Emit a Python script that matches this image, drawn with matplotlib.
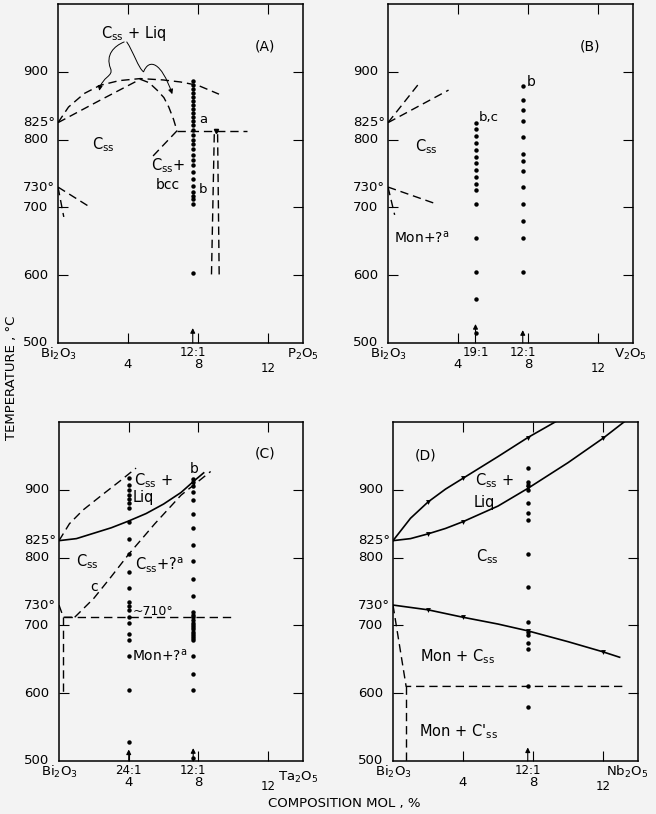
import matplotlib
matplotlib.use("Agg")
import matplotlib.pyplot as plt
from matplotlib.path import Path
from matplotlib.patches import FancyArrowPatch
import matplotlib.transforms as mtransforms

plt.rcParams['font.family'] = ['DejaVu Sans']
plt.rcParams['mathtext.default'] = 'regular'

BG = '#f3f3f3'
DASH = (0, (6, 3.5))

# ---- panel A: Bi2O3 - P2O5 ----
a_upper_x = [0, 0.6, 1.5, 2.4, 3.5, 4.7, 6.0, 7.0, 8.0, 9.2]
a_upper_y = [825, 848, 868, 880, 887, 890, 888, 885, 880, 867]
a_lower_x = [0, 2.4, 4.7]
a_lower_y = [825, 858, 889]
a_desc_x = [4.7, 5.2, 5.66, 6.05, 6.33, 6.6, 6.8]
a_desc_y = [889, 884, 873, 862, 848, 830, 813]
a_eut_x = [6.8, 10.8]
a_eut_y = [813, 813]
a_branch_x = [6.8, 5.4]
a_branch_y = [813, 775]
a_vl_x = [8.93, 8.77]
a_vl_y = [808, 600]
a_vr_x = [9.12, 9.21]
a_vr_y = [808, 600]
a_730_x = [0, 1.73]
a_730_y = [730, 702]
a_730b_x = [0, 0.33]
a_730b_y = [730, 686]
a_dots_y = [886, 881, 875, 869, 863, 857, 851, 845, 839, 833, 828, 822, 814,
            807, 800, 793, 786, 778, 770, 762, 752, 742, 732, 722, 717, 713,
            705, 603]
a_arrow = [(7.7, 522)]

# ---- panel B: Bi2O3 - V2O5 ----
b_825a_x = [0, 1.84]
b_825a_y = [825, 885]
b_825b_x = [0, 3.46]
b_825b_y = [825, 873]
b_730_x = [0, 2.66]
b_730_y = [730, 706]
b_730b_x = [0, 0.38]
b_730b_y = [730, 689]
b_dots19_y = [825, 815, 805, 795, 785, 775, 765, 755, 745, 735, 725, 705,
              655, 605, 565, 515]
b_dots12_y = [879, 859, 843, 828, 804, 779, 769, 754, 730, 705, 680, 655, 605]
b_arrows = [(5.0, 528), (7.7, 519)]

# ---- panel C: Bi2O3 - Ta2O5 ----
c_liq_x = [0, 1, 2, 3, 4, 5, 6, 7, 7.7, 8.3]
c_liq_y = [825, 828, 836, 844, 854, 865, 879, 896, 912, 925]
c_up_x = [0, 0.6, 1.37, 2.5, 3.5, 4.42]
c_up_y = [825, 850, 870, 893, 913, 932]
c_lo_x = [0.9, 2.0, 3.0, 4.0, 5.5, 7.0, 8.7]
c_lo_y = [712, 740, 772, 805, 850, 892, 927]
c_710_x = [0.3, 10.05]
c_710_y = [712, 712]
c_730_x = [0, 0.25, 0.9]
c_730_y = [730, 712, 712]
c_vert_x = [0.25, 0.25]
c_vert_y = [712, 600]
c_dots24_y = [917, 907, 900, 892, 886, 880, 873, 853, 828, 806, 779, 755, 735,
              729, 723, 713, 703, 688, 678, 655, 604, 528]
c_dots12_y = [916, 912, 905, 897, 885, 865, 843, 819, 795, 769, 744, 720, 716,
              712, 708, 704, 700, 697, 694, 691, 688, 685, 682, 679, 655, 629,
              604, 505]
c_arrows = [(4.0, 517), (7.7, 519)]

# ---- panel D: Bi2O3 - Nb2O5 ----
d_liq_x = [0, 1, 2, 3, 4, 6, 7.7, 9.4]
d_liq_y = [825, 858, 882, 901, 917, 949, 977, 1002]
d_sol_x = [0, 1, 2, 3, 4, 6, 7.7, 10, 12, 13.3]
d_sol_y = [825, 828, 835, 843, 853, 876, 902, 940, 976, 1002]
d_tr_x = [0, 2, 4, 6, 7.7, 10, 12, 12.95]
d_tr_y = [730, 723, 712, 702, 692, 676, 661, 653]
d_mk_liq = ([2, 4, 7.7], [882, 917, 977])
d_mk_sol = ([2, 4, 7.7, 12], [835, 853, 902, 976])
d_mk_tr = ([2, 4, 7.7, 12], [723, 712, 692, 661])
d_dash_x = [0, 0.75, 13.35]
d_dash_y = [730, 610, 610]
d_vert_x = [0.75, 0.75]
d_vert_y = [610, 500]
d_dots_y = [932, 912, 907, 900, 881, 866, 856, 805, 756, 705, 691, 686, 674,
            665, 611, 580]
d_arrows = [(7.7, 520)]

fig = plt.figure(figsize=(6.56, 8.14), dpi=100, facecolor=BG)
W, H = 656, 814


def make_ax(left, top, right, bottom):
    ax = fig.add_axes([left / W, 1 - bottom / H, (right - left) / W, (bottom - top) / H])
    ax.set_facecolor(BG)
    ax.set_xlim(0, 14)
    ax.set_ylim(500, 1000)
    ax.set_xticks([4, 8, 12])
    ax.set_yticks([600, 700, 800, 900])
    ax.tick_params(direction='in', length=7, width=0.8, top=True, right=True,
                   labelbottom=False, labelleft=False)
    for s in ax.spines.values():
        s.set_linewidth(1.1)
    tr = mtransforms.blended_transform_factory(ax.transAxes, ax.transData)
    off = -35 / (right - left)
    for v, lab in [(900, '900'), (825, '825°'), (800, '800'), (730, '730°'),
                   (700, '700'), (600, '600'), (500, '500')]:
        ax.text(off, v, lab, transform=tr, ha='left', va='center', fontsize=9.5)
    return ax


def xlab(ax, x, text, dy, fs=9.5):
    ax.annotate(text, xy=(x, 0), xycoords=('data', 'axes fraction'),
                xytext=(0, -dy), textcoords='offset pixels',
                ha='center', va='center', fontsize=fs)


def xlabels(ax, ratios, oxide, oxide_dy=11, oxide_x=14):
    xlab(ax, 0, 'Bi$_2$O$_3$', 11)
    for x, r in ratios:
        xlab(ax, x, r, 9, fs=8.5)
    xlab(ax, 4, '4', 21)
    xlab(ax, 8, '8', 21)
    xlab(ax, 12, '12', 25, fs=8.5)
    xlab(ax, oxide_x, oxide, oxide_dy)


def dots(ax, x, ys):
    ax.plot([x] * len(ys), ys, 'o', color='k', ms=3.2, mec='none')


def arrows(ax, lst):
    for x, y in lst:
        ax.annotate('', xy=(x, y), xytext=(x, 500),
                    arrowprops=dict(arrowstyle='-|>', lw=0.8, color='k',
                                    mutation_scale=7, shrinkA=0, shrinkB=0))


def dashed(ax, x, y, lw=1.0):
    ax.plot(x, y, color='k', lw=lw, linestyle=DASH)


# ---------------- A ----------------
axA = make_ax(58, 4, 303, 343)
for xs, ys in [(a_upper_x, a_upper_y), (a_lower_x, a_lower_y), (a_desc_x, a_desc_y),
               (a_eut_x, a_eut_y), (a_branch_x, a_branch_y), (a_vl_x, a_vl_y),
               (a_vr_x, a_vr_y), (a_730_x, a_730_y), (a_730b_x, a_730b_y)]:
    dashed(axA, xs, ys)
axA.plot([9.02], [812], marker='v', color='k', ms=3)
dots(axA, 7.7, a_dots_y)
arrows(axA, a_arrow)
axA.text(4.3, 957, 'C$_{ss}$ + Liq', ha='center', va='center', fontsize=10.5)
codes = [Path.MOVETO, Path.CURVE4, Path.CURVE4, Path.CURVE4,
         Path.CURVE4, Path.CURVE4, Path.CURVE4]
for pts in [[(3.78, 944), (3.2, 938), (2.7, 925), (3.0, 905),
             (3.2, 893), (2.5, 893), (2.36, 872)],
            [(3.93, 944), (4.3, 930), (4.6, 905), (4.89, 900),
             (5.2, 920), (5.9, 915), (6.53, 867)]]:
    p = FancyArrowPatch(path=Path(pts, codes), arrowstyle='-|>', mutation_scale=7,
                        lw=0.7, color='k', transform=axA.transData)
    axA.add_patch(p)
axA.text(11.8, 937, '(A)', ha='center', va='center', fontsize=10)
axA.text(2.6, 792, 'C$_{ss}$', ha='center', va='center', fontsize=10.5)
axA.text(6.3, 762, 'C$_{ss}$+', ha='center', va='center', fontsize=10.5)
axA.text(6.25, 733, 'bcc', ha='center', va='center', fontsize=10)
axA.text(8.05, 829, 'a', ha='left', va='center', fontsize=9.5)
axA.text(8.05, 727, 'b', ha='left', va='center', fontsize=9.5)
xlabels(axA, [(7.7, '12:1')], 'P$_2$O$_5$')

# ---------------- B ----------------
axB = make_ax(388, 4, 633, 343)
for xs, ys in [(b_825a_x, b_825a_y), (b_825b_x, b_825b_y), (b_730_x, b_730_y),
               (b_730b_x, b_730b_y)]:
    dashed(axB, xs, ys)
dots(axB, 5.0, b_dots19_y)
dots(axB, 7.7, b_dots12_y)
arrows(axB, b_arrows)
axB.text(11.56, 937, '(B)', ha='center', va='center', fontsize=10)
axB.text(2.2, 790, 'C$_{ss}$', ha='center', va='center', fontsize=10.5)
axB.text(1.94, 655, 'Mon+?$^a$', ha='center', va='center', fontsize=10)
axB.text(5.75, 833, 'b,c', ha='center', va='center', fontsize=9.5)
axB.text(8.2, 885, 'b', ha='center', va='center', fontsize=10)
xlabels(axB, [(5.0, '19:1'), (7.7, '12:1')], 'V$_2$O$_5$', oxide_x=13.85)

# ---------------- C ----------------
axC = make_ax(59, 422, 303, 761)
axC.plot(c_liq_x, c_liq_y, color='k', lw=1.2)
for xs, ys in [(c_up_x, c_up_y), (c_lo_x, c_lo_y), (c_710_x, c_710_y),
               (c_730_x, c_730_y), (c_vert_x, c_vert_y)]:
    dashed(axC, xs, ys)
dots(axC, 4.0, c_dots24_y)
dots(axC, 7.7, c_dots12_y)
arrows(axC, c_arrows)
axC.text(11.85, 954, '(C)', ha='center', va='center', fontsize=10)
axC.text(5.4, 914, 'C$_{ss}$ +', ha='center', va='center', fontsize=10.5)
axC.text(4.2, 888, 'Liq', ha='left', va='center', fontsize=10.5)
axC.text(1.65, 794, 'C$_{ss}$', ha='center', va='center', fontsize=10.5)
axC.text(2.04, 757, 'c', ha='center', va='center', fontsize=10)
axC.text(5.75, 789, 'C$_{ss}$+?$^a$', ha='center', va='center', fontsize=10.5)
axC.text(4.25, 721, '~710°', ha='left', va='center', fontsize=9)
axC.text(4.2, 655, 'Mon+?$^a$', ha='left', va='center', fontsize=10)
axC.text(7.75, 930, 'b', ha='center', va='center', fontsize=10)
xlabels(axC, [(4.0, '24:1'), (7.7, '12:1')], 'Ta$_2$O$_5$', oxide_dy=16, oxide_x=13.7)

# ---------------- D ----------------
axD = make_ax(393, 422, 638, 761)
axD.plot(d_liq_x, d_liq_y, color='k', lw=1.2)
axD.plot(d_sol_x, d_sol_y, color='k', lw=1.2)
axD.plot(d_tr_x, d_tr_y, color='k', lw=1.2)
for mk in [d_mk_liq, d_mk_sol, d_mk_tr]:
    axD.plot(mk[0], mk[1], 'v', color='k', ms=3.5, mec='none')
dashed(axD, d_dash_x, d_dash_y)
dashed(axD, d_vert_x, d_vert_y)
dots(axD, 7.7, d_dots_y)
arrows(axD, d_arrows)
axD.text(1.88, 951, '(D)', ha='center', va='center', fontsize=10)
axD.text(5.77, 914, 'C$_{ss}$ +', ha='center', va='center', fontsize=10.5)
axD.text(5.2, 882, 'Liq', ha='center', va='center', fontsize=10.5)
axD.text(5.38, 801, 'C$_{ss}$', ha='center', va='center', fontsize=10.5)
axD.text(3.68, 654, 'Mon + C$_{ss}$', ha='center', va='center', fontsize=10.5)
axD.text(3.77, 543, "Mon + C$'_{ss}$", ha='center', va='center', fontsize=10.5)
xlabels(axD, [(7.7, '12:1')], 'Nb$_2$O$_5$', oxide_x=13.4)

fig.text(12 / W, 1 - 378 / H, 'TEMPERATURE , °C', rotation=90, ha='center',
         va='center', fontsize=9.5)
fig.text(344 / W, 1 - 804 / H, 'COMPOSITION MOL , %', ha='center', va='center',
         fontsize=9.5)

fig.savefig('out.png', dpi=100, facecolor=BG)
